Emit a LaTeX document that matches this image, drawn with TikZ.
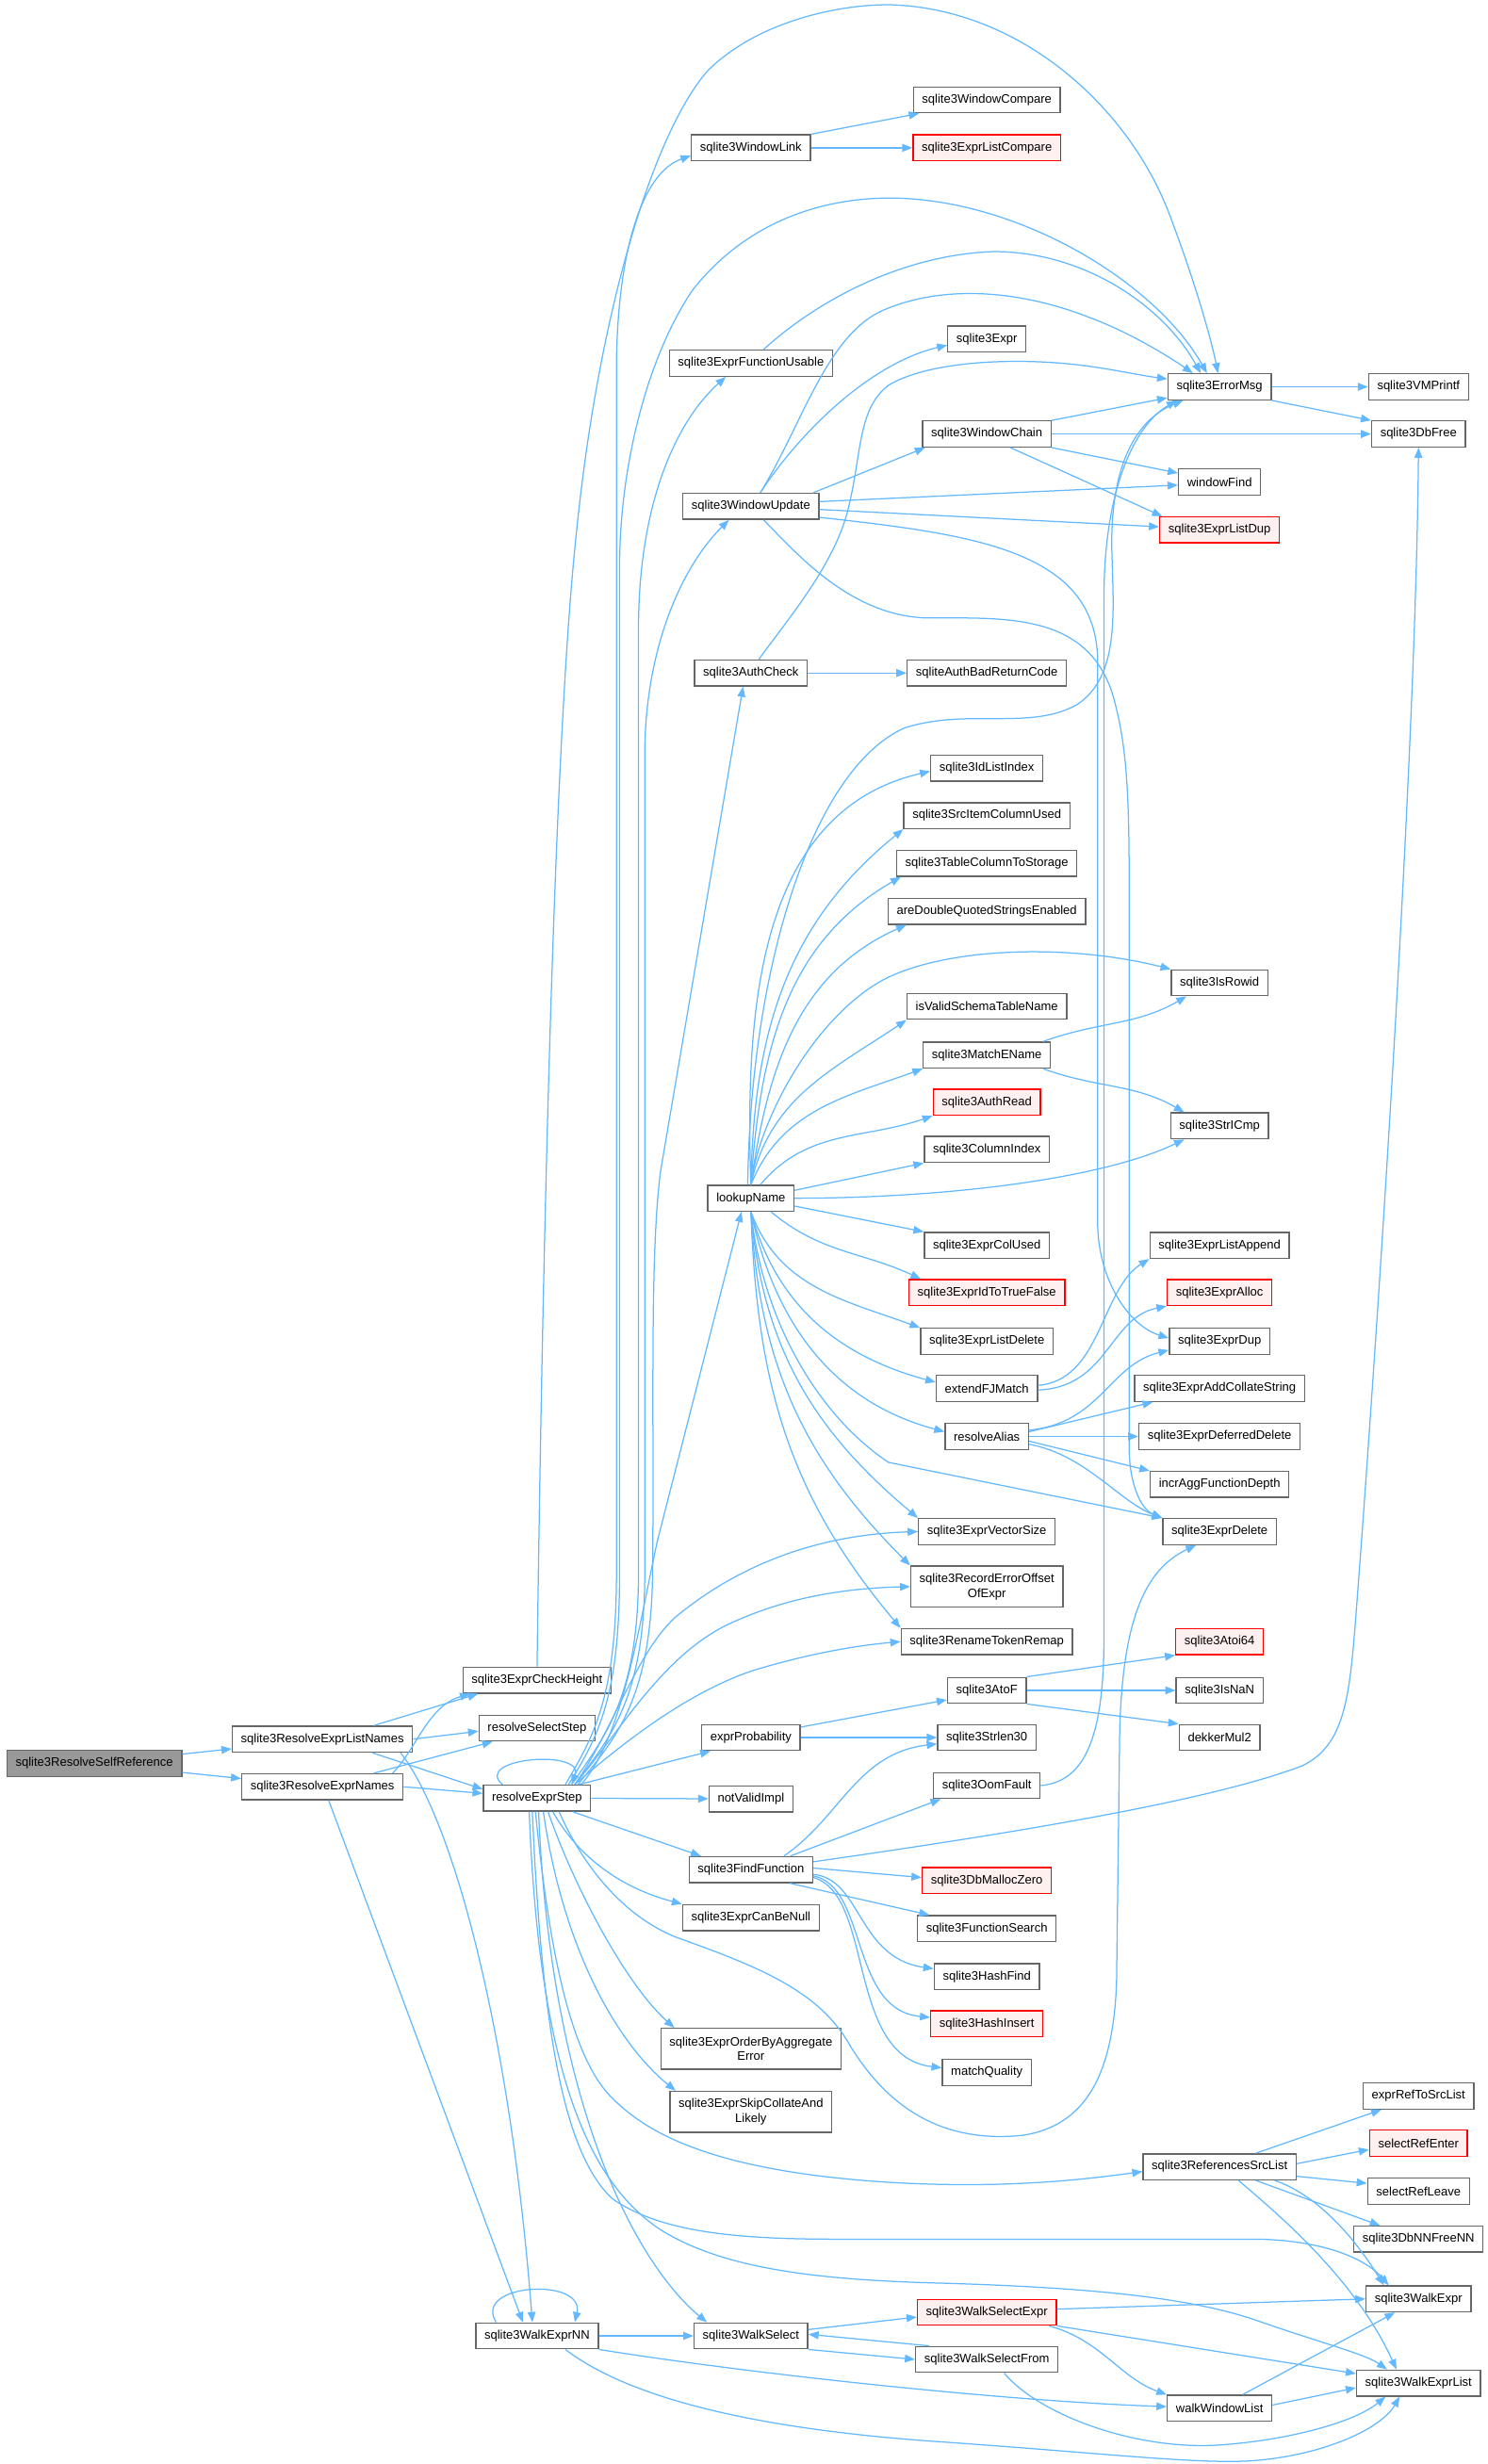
\documentclass[tikz,border=0pt]{standalone}
\usepackage{fontspec}
\setmainfont{Liberation Sans}
\usetikzlibrary{arrows.meta}

\definecolor{edgeblue}{HTML}{63B8FF}
\definecolor{boxgray}{HTML}{666666}
\definecolor{rootgray}{HTML}{999999}
\definecolor{pinkfill}{HTML}{FFF0F0}

\begin{document}
\begin{tikzpicture}[
  x=1pt, y=1pt,
  every node/.style={font=\fontsize{7.8}{9.4}\selectfont},
  fn/.style={draw=boxgray, fill=white, line width=0.8pt, minimum height=16.5pt, inner xsep=5.5pt, inner ysep=1pt, align=center},
  rootfn/.style={fn, fill=rootgray},
  redfn/.style={fn, draw=red, fill=pinkfill},
  tallfn/.style={fn, minimum height=26pt},
  callarrow/.style={-{Triangle[length=6.5pt, width=5pt]}, edgeblue, line width=0.75pt}, % caller -> callee
  ]
\useasboundingbox (0,0) rectangle (946,-1567);

% Callers on the left
\node[rootfn] (selfref) at (60,-1121.5) {sqlite3ResolveSelfReference};
\node[fn] (listnames) at (205,-1106) {sqlite3ResolveExprListNames};
\node[fn] (exprnames) at (205,-1136.3) {sqlite3ResolveExprNames};
\node[fn] (checkheight) at (341.5,-1068.5) {sqlite3ExprCheckHeight};
\node[fn] (selectstep) at (341.5,-1099) {resolveSelectStep};
\node[fn] (exprstep) at (341.5,-1143.5) {resolveExprStep};
\node[fn] (walkexprnn) at (341.5,-1485.5) {sqlite3WalkExprNN};

% Middle column
\node[fn] (windowlink) at (477.5,-94) {sqlite3WindowLink};
\node[fn] (funcusable) at (477.5,-231) {sqlite3ExprFunctionUsable};
\node[fn] (windowupdate) at (477.5,-322) {sqlite3WindowUpdate};
\node[fn] (authcheck) at (477.5,-428) {sqlite3AuthCheck};
\node[fn] (lookupname) at (477.5,-762) {lookupName};
\node[fn] (exprprob) at (477.5,-1105) {exprProbability};
\node[fn] (notvalid) at (477.5,-1144) {notValidImpl};
\node[fn] (findfunc) at (477.5,-1189) {sqlite3FindFunction};
\node[fn] (canbenull) at (477.5,-1219.5) {sqlite3ExprCanBeNull};
\node[tallfn] (orderby) at (477.5,-1303) {sqlite3ExprOrderByAggregate\\Error};
\node[tallfn] (skipcollate) at (477.5,-1343) {sqlite3ExprSkipCollateAnd\\Likely};
\node[fn] (walkselect) at (477.5,-1485.5) {sqlite3WalkSelect};

% Callees, first row of leaves
\node[fn] (windowcompare) at (627.5,-63.5) {sqlite3WindowCompare};
\node[redfn] (listcompare) at (627.5,-94) {sqlite3ExprListCompare};
\node[fn] (sqlexpr) at (627.5,-215.5) {sqlite3Expr};
\node[fn] (windowchain) at (627.5,-276) {sqlite3WindowChain};
\node[fn] (authbad) at (627.5,-428) {sqliteAuthBadReturnCode};
\node[fn] (idlistindex) at (627.5,-488.5) {sqlite3IdListIndex};
\node[fn] (srcitem) at (627.5,-518.7) {sqlite3SrcItemColumnUsed};
\node[fn] (tablecol) at (627.5,-549) {sqlite3TableColumnToStorage};
\node[fn] (aredouble) at (627.5,-579.5) {areDoubleQuotedStringsEnabled};
\node[fn] (isvalid) at (627.5,-640) {isValidSchemaTableName};
\node[fn] (matchename) at (627.5,-671) {sqlite3MatchEName};
\node[redfn] (authread) at (627.5,-701) {sqlite3AuthRead};
\node[fn] (columnindex) at (627.5,-731) {sqlite3ColumnIndex};
\node[fn] (colused) at (627.5,-792) {sqlite3ExprColUsed};
\node[redfn] (idtotrue) at (627.5,-822) {sqlite3ExprIdToTrueFalse};
\node[fn] (listdelete) at (627.5,-853) {sqlite3ExprListDelete};
\node[fn] (extendfj) at (627.5,-883) {extendFJMatch};
\node[fn] (resolvealias) at (627.5,-913.5) {resolveAlias};
\node[fn] (vectorsize) at (627.5,-974) {sqlite3ExprVectorSize};
\node[tallfn] (recorderr) at (627.5,-1009) {sqlite3RecordErrorOffset\\OfExpr};
\node[fn] (renametoken) at (627.5,-1044) {sqlite3RenameTokenRemap};
\node[fn] (atof) at (627.5,-1075) {sqlite3AtoF};
\node[fn] (strlen) at (627.5,-1105) {sqlite3Strlen30};
\node[fn] (oomfault) at (627.5,-1135.5) {sqlite3OomFault};
\node[redfn] (mallocz) at (627.5,-1196) {sqlite3DbMallocZero};
\node[fn] (funcsearch) at (627.5,-1226.5) {sqlite3FunctionSearch};
\node[fn] (hashfind) at (627.5,-1257) {sqlite3HashFind};
\node[redfn] (hashinsert) at (627.5,-1287) {sqlite3HashInsert};
\node[fn] (matchquality) at (627.5,-1318) {matchQuality};
\node[redfn] (walkselexpr) at (627.5,-1470.5) {sqlite3WalkSelectExpr};
\node[fn] (walkselfrom) at (627.5,-1500.5) {sqlite3WalkSelectFrom};

% Callees, second row of leaves
\node[fn] (errormsg) at (775.5,-246) {sqlite3ErrorMsg};
\node[fn] (windowfind) at (775.5,-306.5) {windowFind};
\node[redfn] (listdup) at (775.5,-337) {sqlite3ExprListDup};
\node[fn] (isrowid) at (775.5,-625) {sqlite3IsRowid};
\node[fn] (stricmp) at (775.5,-716) {sqlite3StrICmp};
\node[fn] (listappend) at (775.5,-792) {sqlite3ExprListAppend};
\node[redfn] (expralloc) at (775.5,-822) {sqlite3ExprAlloc};
\node[fn] (exprdup) at (775.5,-853) {sqlite3ExprDup};
\node[fn] (addcollate) at (775.5,-883) {sqlite3ExprAddCollateString};
\node[fn] (deferred) at (775.5,-913.5) {sqlite3ExprDeferredDelete};
\node[fn] (incragg) at (775.5,-944) {incrAggFunctionDepth};
\node[fn] (exprdelete) at (775.5,-974) {sqlite3ExprDelete};
\node[redfn] (atoi64) at (775.5,-1044) {sqlite3Atoi64};
\node[fn] (isnan) at (775.5,-1075) {sqlite3IsNaN};
\node[fn] (dekker) at (775.5,-1105) {dekkerMul2};
\node[fn] (refsrclist) at (775.5,-1378) {sqlite3ReferencesSrcList};
\node[fn] (walkwindow) at (775.5,-1531.5) {walkWindowList};

% Right-most column
\node[fn] (vmprintf) at (902,-246) {sqlite3VMPrintf};
\node[fn] (dbfree) at (902,-276) {sqlite3DbFree};
\node[fn] (exprref) at (902,-1333) {exprRefToSrcList};
\node[redfn] (selrefenter) at (902,-1363) {selectRefEnter};
\node[fn] (selrefleave) at (902,-1393.5) {selectRefLeave};
\node[fn] (dbnnfree) at (902,-1424) {sqlite3DbNNFreeNN};
\node[fn] (walkexpr) at (902,-1462) {sqlite3WalkExpr};
\node[fn] (walkexprlist) at (902,-1515.5) {sqlite3WalkExprList};

% Root and resolver entry points
\draw[callarrow] (selfref) -- (listnames);
\draw[callarrow] (selfref) -- (exprnames);
\draw[callarrow] ([xshift=-25]listnames.north east) -- ([xshift=10]checkheight.south west);
\draw[callarrow] (listnames.east) -- ([yshift=-2]selectstep.west);
\draw[callarrow] ([xshift=-26]listnames.south east) -- ([yshift=-3]exprstep.north west);
\draw[callarrow] ([xshift=-8]listnames.south east) .. controls (290,-1160) and (325,-1300) .. ([xshift=-3]walkexprnn.north);
\draw[callarrow] ([xshift=-7]exprnames.north east) .. controls (265,-1112) and (272,-1085) .. ([xshift=5]checkheight.south west);
\draw[callarrow] ([xshift=-19]exprnames.north east) -- ([xshift=9]selectstep.south west);
\draw[callarrow] (exprnames.east) -- ([yshift=3]exprstep.west);
\draw[callarrow] ([xshift=4]exprnames.south) -- ([xshift=-9]walkexprnn.north);

% sqlite3ExprCheckHeight (outer arc)
\draw[callarrow] (checkheight.north) .. controls (345,-800) and (352,-480) .. (366,-344) .. controls (380,-200) and (415,-85) .. (450,-45) .. controls (480,-15) and (530,-3) .. (565,-3) .. controls (650,-5) and (720,-70) .. (745,-140) .. controls (760,-180) and (770,-215) .. ([xshift=-1]errormsg.north);

% resolveExprStep
\draw[callarrow] ([xshift=-22]exprstep.north) .. controls (300,-1118) and (372,-1112) .. ([xshift=22]exprstep.north);
\draw[callarrow] ([xshift=20]exprstep.north) .. controls (380,-1105) and (394,-1080) .. (394,-1000) -- (394,-360) .. controls (394,-300) and (410,-230) .. (440,-185) .. controls (475,-140) and (525,-125) .. (570,-126) .. controls (650,-128) and (735,-180) .. ([xshift=-8]errormsg.north);
\draw[callarrow] ([xshift=18]exprstep.north) .. controls (377,-1105) and (392,-1080) .. (392,-1000) -- (392,-230) .. controls (393,-160) and (408,-110) .. ([yshift=-5]windowlink.west);
\draw[callarrow] ([xshift=22]exprstep.north) .. controls (384,-1105) and (406,-1080) .. (406,-1000) -- (406,-400) .. controls (406,-320) and (430,-268) .. ([xshift=-16]funcusable.south);
\draw[callarrow] ([xshift=24]exprstep.north) .. controls (388,-1105) and (410,-1080) .. (410,-1000) -- (410,-480) .. controls (410,-415) and (432,-362) .. ([xshift=-14]windowupdate.south);
\draw[callarrow] ([xshift=26]exprstep.north) .. controls (392,-1105) and (414,-1080) .. (415,-1000) .. controls (416,-900) and (413,-800) .. (420,-745) -- ([xshift=-5]authcheck.south);
\draw[callarrow] ([xshift=28]exprstep.north) .. controls (396,-1105) and (406,-1035) .. (418,-980) -- ([xshift=-6]lookupname.south);
\draw[callarrow] ([xshift=24]exprstep.north) .. controls (390,-1100) and (405,-1050) .. (430,-1028) .. controls (470,-995) and (520,-976) .. (vectorsize.west);
\draw[callarrow] ([xshift=24]exprstep.north) .. controls (395,-1100) and (420,-1055) .. (461,-1034) .. controls (500,-1015) and (540,-1010) .. (recorderr.west);
\draw[callarrow] ([xshift=24]exprstep.north) .. controls (400,-1105) and (440,-1075) .. (480,-1062) .. controls (520,-1050) and (550,-1046) .. (renametoken.west);
\draw[callarrow] ([xshift=-8]exprstep.north east) -- ([xshift=6]exprprob.south west);
\draw[callarrow] (exprstep) -- (notvalid);
\draw[callarrow] ([xshift=-12]exprstep.south east) -- ([xshift=8]findfunc.north west);
\draw[callarrow] ([xshift=10]exprstep.south) .. controls (370,-1185) and (400,-1202) .. (canbenull.north west);
\draw[callarrow] ([xshift=7]exprstep.south) .. controls (365,-1200) and (398,-1262) .. ([xshift=9]orderby.north west);
\draw[callarrow] ([xshift=4]exprstep.south) .. controls (358,-1240) and (393,-1300) .. ([xshift=4]skipcollate.north west);
\draw[callarrow] ([xshift=1]exprstep.south) .. controls (350,-1340) and (405,-1440) .. ([xshift=-28]walkselect.north);
\draw[callarrow] ([xshift=-1]exprstep.south) .. controls (350,-1250) and (365,-1310) .. (389,-1334) .. controls (410,-1355) and (450,-1381) .. (568,-1388) .. controls (640,-1392) and (690,-1386) .. ([yshift=-3]refsrclist.west);
\draw[callarrow] ([xshift=-3]exprstep.south) .. controls (345,-1300) and (360,-1370) .. (389,-1398) .. controls (420,-1420) and (470,-1424) .. (532,-1424) -- (800,-1424) .. controls (845,-1425) and (870,-1438) .. ([xshift=-19]walkexpr.north);
\draw[callarrow] ([xshift=-5]exprstep.south) .. controls (343,-1320) and (375,-1388) .. (420,-1418) .. controls (460,-1443) and (520,-1450) .. (600,-1452) .. controls (700,-1455) and (760,-1462) .. (800,-1476) .. controls (840,-1490) and (868,-1497) .. ([xshift=-20]walkexprlist.north);
\draw[callarrow] ([xshift=14]exprstep.south) .. controls (370,-1185) and (395,-1218) .. (430,-1232) .. controls (480,-1250) and (520,-1265) .. (540,-1300) .. controls (570,-1350) and (610,-1362) .. (650,-1358) .. controls (690,-1352) and (708,-1320) .. (710,-1260) -- (712,-1100) .. controls (714,-1030) and (728,-998) .. ([xshift=-15]exprdelete.south);

% Window helpers
\draw[callarrow] (windowlink.north east) -- ([xshift=4]windowcompare.south west);
\draw[callarrow] (windowlink) -- (listcompare);
\draw[callarrow] ([xshift=8]funcusable.north) .. controls (515,-195) and (570,-162) .. (632,-160) .. controls (690,-160) and (740,-195) .. ([xshift=-12]errormsg.north);
\draw[callarrow] ([xshift=6]windowupdate.north) .. controls (510,-270) and (525,-215) .. (560,-198) .. controls (600,-180) and (650,-185) .. (693,-202) .. controls (720,-212) and (745,-228) .. ([xshift=-17]errormsg.north);
\draw[callarrow] ([xshift=6]windowupdate.north) .. controls (505,-280) and (550,-232) .. ([yshift=-4]sqlexpr.west);
\draw[callarrow] ([xshift=-4]windowupdate.north east) -- ([xshift=2]windowchain.south west);
\draw[callarrow] ([yshift=3]windowupdate.east) -- ([yshift=-2]windowfind.west);
\draw[callarrow] ([yshift=-2]windowupdate.east) -- ([yshift=2]listdup.west);
\draw[callarrow] ([yshift=-7]windowupdate.east) .. controls (620,-340) and (697,-350) .. (698,-420) -- (698,-780) .. controls (699,-815) and (718,-843) .. ([yshift=2]exprdup.west);
\draw[callarrow] ([xshift=8]windowupdate.south) .. controls (505,-350) and (540,-392) .. (590,-393) .. controls (640,-393) and (690,-390) .. (707,-440) .. controls (716,-470) and (718,-500) .. (718,-560) -- (718,-920) .. controls (718,-945) and (726,-960) .. (exprdelete.north west);
\draw[callarrow] (windowchain.north east) -- ([yshift=-7]errormsg.west);
\draw[callarrow] (windowchain) -- (dbfree);
\draw[callarrow] (windowchain.south east) -- ([yshift=-3]windowfind.north west);
\draw[callarrow] ([xshift=15]windowchain.south) -- ([xshift=2]listdup.north west);
\draw[callarrow] (errormsg) -- (vmprintf);
\draw[callarrow] (errormsg.south east) -- (dbfree.north west);

% Auth checks
\draw[callarrow] (authcheck) -- (authbad);
\draw[callarrow] ([xshift=5]authcheck.north) .. controls (500,-395) and (530,-360) .. (539,-325) .. controls (548,-290) and (545,-260) .. (565,-245) .. controls (590,-230) and (640,-228) .. (675,-231) .. controls (700,-233) and (720,-238) .. ([yshift=5]errormsg.west);

% lookupName fan
\draw[callarrow] ([xshift=-2]lookupname.north) .. controls (477,-620) and (515,-490) .. (575,-463) .. controls (615,-450) and (655,-465) .. (685,-448) .. controls (712,-430) and (708,-390) .. (707,-350) .. controls (706,-300) and (720,-268) .. ([xshift=10]errormsg.south west);
\draw[callarrow] (lookupname.north) to[out=92,in=193] ([yshift=-2]idlistindex.west);
\draw[callarrow] (lookupname.north) to[out=89,in=219] (srcitem.south west);
\draw[callarrow] (lookupname.north) to[out=86,in=210] ([xshift=3]tablecol.south west);
\draw[callarrow] (lookupname.north) to[out=82,in=204] ([xshift=12]aredouble.south west);
\draw[callarrow] (lookupname.north) .. controls (482,-715) and (515,-650) .. (560,-624) .. controls (600,-602) and (680,-600) .. (isrowid.north west);
\draw[callarrow] (lookupname.north) to[out=78,in=214] (isvalid.south west);
\draw[callarrow] (lookupname.north) to[out=68,in=200] (matchename.south west);
\draw[callarrow] ([xshift=6]lookupname.north) to[out=50,in=199] (authread.south west);
\draw[callarrow] ([yshift=5]lookupname.east) -- (columnindex.south west);
\draw[callarrow] (lookupname.east) .. controls (600,-762) and (700,-750) .. ([xshift=9]stricmp.south west);
\draw[callarrow] ([yshift=-5]lookupname.east) -- (colused.north west);
\draw[callarrow] ([xshift=-15]lookupname.south east) to[out=-40,in=155] ([xshift=8]idtotrue.north west);
\draw[callarrow] (lookupname.south) to[out=-70,in=160] (listdelete.north west);
\draw[callarrow] (lookupname.south) to[out=-75,in=165] ([yshift=4]extendfj.west);
\draw[callarrow] (lookupname.south) to[out=-78,in=165] ([yshift=3]resolvealias.west);
\draw[callarrow] (lookupname.south) .. controls (485,-840) and (520,-900) .. (565,-930) -- (exprdelete.north west);
\draw[callarrow] (lookupname.south) to[out=-85,in=140] (vectorsize.north west);
\draw[callarrow] (lookupname.south) to[out=-87,in=135] (recorderr.north west);
\draw[callarrow] (lookupname.south) to[out=-88,in=130] (renametoken.north west);

% Second-level helpers
\draw[callarrow] ([xshift=-5]matchename.north east) to[out=20,in=210] ([xshift=10]isrowid.south west);
\draw[callarrow] ([xshift=-5]matchename.south east) to[out=-20,in=150] ([xshift=9]stricmp.north west);
\draw[callarrow] ([yshift=2]extendfj.east) .. controls (700,-878) and (700,-820) .. (listappend.south west);
\draw[callarrow] ([yshift=-1]extendfj.east) .. controls (705,-882) and (705,-838) .. (expralloc.south west);
\draw[callarrow] ([yshift=4]resolvealias.east) .. controls (700,-905) and (705,-868) .. ([yshift=3]exprdup.south west);
\draw[callarrow] ([yshift=3]resolvealias.east) -- ([xshift=12]addcollate.south west);
\draw[callarrow] (resolvealias) -- (deferred);
\draw[callarrow] ([yshift=-3]resolvealias.east) -- (incragg.north west);
\draw[callarrow] ([yshift=-5]resolvealias.east) .. controls (690,-925) and (712,-955) .. (exprdelete.north west);
\draw[callarrow] (atof.north east) -- (atoi64.south west);
\draw[callarrow] (atof) -- (isnan);
\draw[callarrow] (atof.south east) -- (dekker.north west);
\draw[callarrow] ([yshift=-2]exprprob.north east) -- ([yshift=-6]atof.west);
\draw[callarrow] (exprprob) -- (strlen);
\draw[callarrow] (oomfault.east) .. controls (692,-1133) and (702,-1100) .. (702,-1040) -- (702,-380) .. controls (702,-310) and (722,-270) .. ([xshift=6]errormsg.south west);

% sqlite3FindFunction
\draw[callarrow] ([xshift=21]findfunc.north) .. controls (535,-1155) and (545,-1115) .. ([yshift=-4]strlen.west);
\draw[callarrow] ([xshift=25]findfunc.north) -- ([xshift=5]oomfault.south west);
\draw[callarrow] ([yshift=5]findfunc.east) .. controls (650,-1165) and (770,-1145) .. (828,-1123) .. controls (855,-1110) and (858,-1080) .. (862,-1030) .. controls (872,-900) and (900,-500) .. (dbfree.south);
\draw[callarrow] ([yshift=1]findfunc.east) -- ([yshift=2]mallocz.west);
\draw[callarrow] ([xshift=-15]findfunc.south east) -- ([xshift=8]funcsearch.north west);
\draw[callarrow] ([yshift=-3]findfunc.east) .. controls (548,-1195) and (545,-1245) .. ([yshift=5]hashfind.west);
\draw[callarrow] ([yshift=-4]findfunc.east) .. controls (552,-1200) and (540,-1278) .. ([yshift=4]hashinsert.west);
\draw[callarrow] ([yshift=-5]findfunc.east) .. controls (556,-1205) and (538,-1308) .. ([yshift=3]matchquality.west);

% sqlite3ReferencesSrcList
\draw[callarrow] ([xshift=-26]refsrclist.north east) -- ([xshift=12]exprref.south west);
\draw[callarrow] ([yshift=2]refsrclist.east) -- ([yshift=-4]selrefenter.west);
\draw[callarrow] ([yshift=-6]refsrclist.east) -- ([yshift=5]selrefleave.west);
\draw[callarrow] ([xshift=-26]refsrclist.south east) -- ([xshift=17]dbnnfree.north west);
\draw[callarrow] ([xshift=-14]refsrclist.south east) .. controls (835,-1395) and (858,-1418) .. ([xshift=-22]walkexpr.north);
\draw[callarrow] ([xshift=12]refsrclist.south) .. controls (815,-1410) and (862,-1450) .. ([xshift=-14]walkexprlist.north);

% Tree walkers
\draw[callarrow] ([xshift=-26]walkexprnn.north) .. controls (300,-1452) and (372,-1448) .. ([xshift=24]walkexprnn.north);
\draw[callarrow] (walkexprnn) -- (walkselect);
\draw[callarrow] (walkexprnn.south east) .. controls (480,-1510) and (640,-1527) .. ([yshift=1]walkwindow.west);
\draw[callarrow] ([xshift=18]walkexprnn.south) .. controls (400,-1525) and (480,-1545) .. (600,-1553) .. controls (700,-1560) and (760,-1567) .. (795,-1565) .. controls (840,-1562) and (878,-1545) .. ([xshift=-12]walkexprlist.south);
\draw[callarrow] ([yshift=4]walkselect.east) -- ([yshift=-3]walkselexpr.west);
\draw[callarrow] (walkselect.south east) -- (walkselfrom.west);
\draw[callarrow] ([xshift=9]walkselfrom.north west) -- ([yshift=1]walkselect.east);
\draw[callarrow] ([xshift=11]walkselfrom.south) .. controls (660,-1535) and (720,-1558) .. (774,-1555) .. controls (820,-1552) and (862,-1540) .. ([xshift=-21]walkexprlist.south);
\draw[callarrow] ([yshift=2]walkselexpr.east) -- (walkexpr.west);
\draw[callarrow] (walkselexpr.south east) -- ([yshift=6]walkexprlist.west);
\draw[callarrow] ([xshift=-5]walkselexpr.south east) .. controls (700,-1488) and (712,-1512) .. (walkwindow.north west);
\draw[callarrow] ([xshift=-19]walkwindow.north east) -- ([xshift=-15]walkexpr.south);
\draw[callarrow] ([yshift=2]walkwindow.east) -- ([yshift=-3]walkexprlist.west);

\end{tikzpicture}
\end{document}
